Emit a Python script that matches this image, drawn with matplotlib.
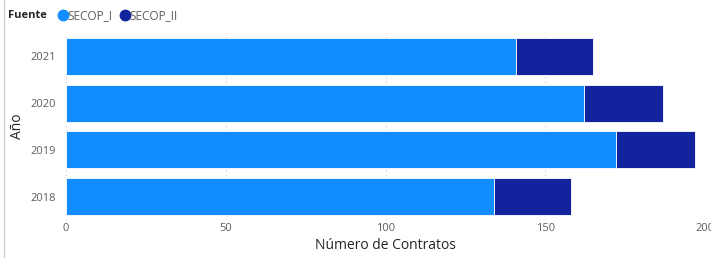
import matplotlib
matplotlib.use("Agg")
import matplotlib.pyplot as plt
from matplotlib.lines import Line2D

years = ["2018", "2019", "2020", "2021"]
secop_i = [134, 172, 162, 141]
secop_ii = [24, 25, 25, 24]
series_names = ["SECOP_I", "SECOP_II"]
colors = ["#118DFF", "#12239E"]
xticks = [0, 50, 100, 150, 200]

plt.rcParams['font.family'] = ['Open Sans', 'DejaVu Sans']

fig = plt.figure(figsize=(7.11, 2.58), dpi=100)
ax = fig.add_axes([66/711, 1-220/258, (705-66)/711, (220-33)/258])

ypos = list(range(len(years)))
ax.barh(ypos, secop_i, height=0.79, color=colors[0], edgecolor="white", linewidth=0.6, zorder=3)
ax.barh(ypos, secop_ii, left=secop_i, height=0.79, color=colors[1], edgecolor="white", linewidth=0.6, zorder=3)

ax.set_xlim(0, 200)
ax.set_ylim(-0.5, 3.5)
ax.set_yticks(ypos)
ax.set_yticklabels(years)
ax.set_xticks(xticks)
ax.set_xticklabels([str(t) for t in xticks])
ax.tick_params(axis='y', length=0, labelsize=8, colors="#605E5C", pad=7)
ax.tick_params(axis='x', length=0, labelsize=8, colors="#605E5C", pad=2)
for s in ax.spines.values():
    s.set_visible(False)
ax.grid(axis='x', linestyle=(0, (1, 3)), color="#C8C8C8", linewidth=0.8, zorder=0)
ax.set_axisbelow(True)

ax.set_xlabel("Número de Contratos", fontsize=10, color="#252423", labelpad=3)
ax.set_ylabel("Año", fontsize=10, color="#252423")
ax.yaxis.set_label_coords((25-66)/639, 0.5)

# legend
fig.text(8/711, 1-16/258, "Fuente", fontsize=8, fontweight="bold", color="#252423", va="center", ha="left")
handles = [Line2D([], [], marker='o', linestyle='none', markersize=7.5, markerfacecolor=c, markeredgecolor=c) for c in colors]
fig.legend(handles, series_names, loc="center left", bbox_to_anchor=(50/711, 1-16/258), frameon=False,
           ncol=2, fontsize=8.5, handletextpad=-0.2, columnspacing=0.4, borderpad=0, handlelength=1.2,
           labelcolor="#605E5C")

# left frame line
fig.add_artist(Line2D([4/711, 4/711], [0, 1], transform=fig.transFigure, color="#D0D0D0", linewidth=1))

fig.savefig("out.png", dpi=100)
